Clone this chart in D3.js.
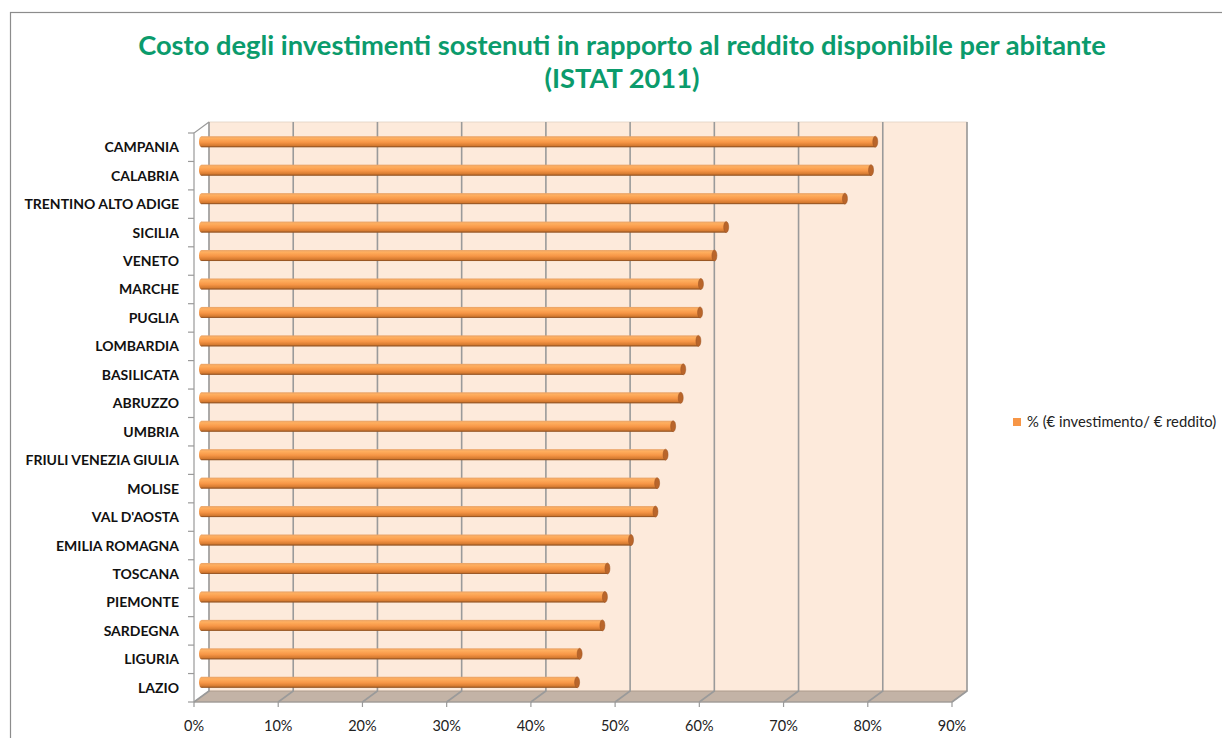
<!DOCTYPE html>
<html>
<head>
<meta charset="utf-8">
<script src="https://cdn.jsdelivr.net/npm/d3@7"></script>
<style>
  body { margin: 0; background: #fff; }
  svg { display: block; }
  .cat-label { font-family: Lato, "Open Sans", sans-serif; font-weight: bold; font-size: 14px; fill: #111; }
  .tick-label { font-family: Lato, "Open Sans", sans-serif; font-size: 14.5px; fill: #222; }
  .title { font-family: Lato, "Open Sans", sans-serif; font-weight: bold; font-size: 27.3px; fill: #0B9B6C; }
  .legend-label { font-family: Lato, "Open Sans", sans-serif; font-size: 14.8px; fill: #222; }
</style>
</head>
<body>
<svg id="chart"></svg>
<script>
// regions, top to bottom
const regions = ['CAMPANIA', 'CALABRIA', 'TRENTINO ALTO ADIGE', 'SICILIA', 'VENETO', 'MARCHE',
  'PUGLIA', 'LOMBARDIA', 'BASILICATA', 'ABRUZZO', 'UMBRIA', 'FRIULI VENEZIA GIULIA', 'MOLISE',
  "VAL D'AOSTA", 'EMILIA ROMAGNA', 'TOSCANA', 'PIEMONTE', 'SARDEGNA', 'LIGURIA', 'LAZIO'];
const ratio = [0.800, 0.795, 0.764, 0.623, 0.609, 0.593, 0.592, 0.590, 0.572, 0.569, 0.560, 0.551,
  0.541, 0.539, 0.510, 0.482, 0.479, 0.476, 0.449, 0.446];
const ticks = [0, 0.1, 0.2, 0.3, 0.4, 0.5, 0.6, 0.7, 0.8, 0.9];
const titleLines = ['Costo degli investimenti sostenuti in rapporto al reddito disponibile per abitante', '(ISTAT 2011)'];
const seriesName = '% (€ investimento/ € reddito)';

const W = 1222, H = 738;
const depth = {dx: 15, dy: -11};

const svg = d3.select('#chart').attr('width', W).attr('height', H);

// outer frame (runs past the right and bottom edges)
svg.append('rect')
    .attr('x', 10.5).attr('y', 12.5)
    .attr('width', W + 20).attr('height', H + 20)
    .attr('fill', 'none').attr('stroke', '#8c8c8c').attr('stroke-width', 1.2);

// title
svg.selectAll('.title')
    .data(titleLines)
    .join('text')
    .attr('class', 'title')
    .attr('x', 622)
    .attr('y', (d, i) => 55 + i * 33)
    .attr('text-anchor', 'middle')
    .text(d => d);

// front-plane scales
const x = d3.scaleLinear().domain([0, 0.9]).range([194, 952]);
const y = d3.scaleBand().domain(regions).range([133, 702]);

const defs = svg.append('defs');
const grad = defs.append('linearGradient')
    .attr('id', 'cyl').attr('x1', 0).attr('y1', 0).attr('x2', 0).attr('y2', 1);
grad.append('stop').attr('offset', '0%').attr('stop-color', '#E8A46A');
grad.append('stop').attr('offset', '20%').attr('stop-color', '#FFAE5E');
grad.append('stop').attr('offset', '55%').attr('stop-color', '#F79646');
grad.append('stop').attr('offset', '85%').attr('stop-color', '#D57A30');
grad.append('stop').attr('offset', '100%').attr('stop-color', '#9C5A26');

const x0 = x(0), x1 = x(0.9);
const yTop = y.range()[0], yBot = y.range()[1];

// back wall
svg.append('rect')
    .attr('x', x0 + depth.dx).attr('y', yTop + depth.dy)
    .attr('width', x1 - x0).attr('height', yBot - yTop)
    .attr('fill', '#FDEADB')
    .attr('stroke', '#e2d2c4').attr('stroke-width', 0.8);

// floor
svg.append('path')
    .attr('d', `M${x0},${yBot} L${x0 + depth.dx},${yBot + depth.dy} L${x1 + depth.dx},${yBot + depth.dy} L${x1},${yBot} Z`)
    .attr('fill', '#C3B3A6')
    .attr('stroke', '#A89888').attr('stroke-width', 0.8);

// gridlines on wall and floor
svg.selectAll('.grid')
    .data(ticks)
    .join('path')
    .attr('class', 'grid')
    .attr('d', d => `M${x(d) + depth.dx},${yTop + depth.dy} L${x(d) + depth.dx},${yBot + depth.dy} L${x(d)},${yBot}`)
    .attr('fill', 'none')
    .attr('stroke', '#9a9a9a')
    .attr('stroke-width', 1.6);

// left axis with depth edge
svg.append('path')
    .attr('d', `M${x0 + depth.dx},${yTop + depth.dy} L${x0},${yTop} L${x0},${yBot}`)
    .attr('fill', 'none').attr('stroke', '#9a9a9a').attr('stroke-width', 1.2);
svg.selectAll('.ytick')
    .data(regions.concat(['__end']))
    .join('line')
    .attr('class', 'ytick')
    .attr('x1', x0 - 6).attr('x2', x0)
    .attr('y1', (d, i) => i < regions.length ? y(d) : yBot)
    .attr('y2', (d, i) => i < regions.length ? y(d) : yBot)
    .attr('stroke', '#9a9a9a').attr('stroke-width', 1.2);

// bottom axis
svg.append('line')
    .attr('x1', x0).attr('x2', x1).attr('y1', yBot).attr('y2', yBot)
    .attr('stroke', '#9a9a9a').attr('stroke-width', 1.2);
svg.selectAll('.xtick')
    .data(ticks)
    .join('line')
    .attr('class', 'xtick')
    .attr('x1', d => x(d)).attr('x2', d => x(d))
    .attr('y1', yBot).attr('y2', yBot + 5)
    .attr('stroke', '#9a9a9a').attr('stroke-width', 1.2);
svg.selectAll('.tick-label')
    .data(ticks)
    .join('text')
    .attr('class', 'tick-label')
    .attr('x', d => x(d))
    .attr('y', yBot + 29)
    .attr('text-anchor', 'middle')
    .text(d3.format('.0%'));

// category labels
svg.selectAll('.cat-label')
    .data(regions)
    .join('text')
    .attr('class', 'cat-label')
    .attr('x', 179)
    .attr('y', d => y(d) + y.bandwidth() / 2 + 5)
    .attr('text-anchor', 'end')
    .text(d => d);

// cylinders, placed at mid depth
const bh = 11;
const midX = v => x(v) + depth.dx / 2;
const midY = d => y(d) + y.bandwidth() / 2 + depth.dy / 2;
const bars = svg.selectAll('.bar')
    .data(regions.map((r, i) => ({region: r, value: ratio[i]})))
    .join('g')
    .attr('class', 'bar');

bars.append('ellipse')
    .attr('cx', midX(0)).attr('cy', d => midY(d.region))
    .attr('rx', 2.5).attr('ry', bh / 2)
    .attr('fill', 'url(#cyl)');
bars.append('rect')
    .attr('x', midX(0))
    .attr('y', d => midY(d.region) - bh / 2)
    .attr('width', d => midX(d.value) - midX(0))
    .attr('height', bh)
    .attr('fill', 'url(#cyl)');
bars.append('line')
    .attr('x1', midX(0)).attr('x2', d => midX(d.value))
    .attr('y1', d => midY(d.region) + bh / 2 - 0.5)
    .attr('y2', d => midY(d.region) + bh / 2 - 0.5)
    .attr('stroke', '#8E5224').attr('stroke-width', 1).attr('opacity', 0.6);
bars.append('ellipse')
    .attr('cx', d => midX(d.value)).attr('cy', d => midY(d.region))
    .attr('rx', 2.5).attr('ry', bh / 2)
    .attr('fill', '#B9652A')
    .attr('stroke', '#9A5322').attr('stroke-width', 0.5);

// legend
svg.append('rect')
    .attr('x', 1013).attr('y', 418).attr('width', 8).attr('height', 8)
    .attr('fill', '#F79646');
svg.append('text')
    .attr('class', 'legend-label')
    .attr('x', 1027).attr('y', 427)
    .text(seriesName);
</script>
</body>
</html>
